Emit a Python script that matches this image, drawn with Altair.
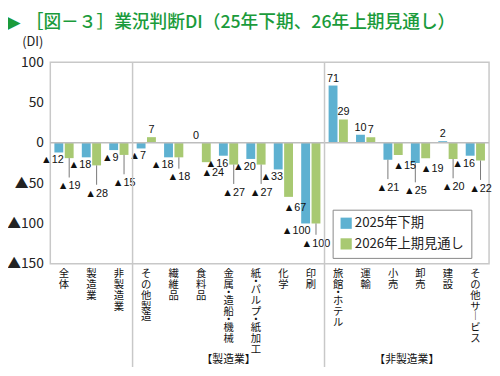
import altair as alt
import pandas as pd

categories = ["全体", "製造業", "非製造業", "その他製造", "繊維品", "食料品",
              "金属・造船・機械", "紙・パルプ・紙加工", "化学", "印刷",
              "旅館・ホテル", "運輸", "小売", "卸売", "建設", "その他サービス"]
v2025 = [-12, -18, -9, -7, -18, 0, -16, -20, -33, -100, 71, 10, -21, -25, 2, -16]
v2026 = [-19, -28, -15, 7, -18, -24, -27, -27, -67, -100, 29, 7, -15, -19, -20, -22]
series_names = ["2025年下期", "2026年上期見通し"]
colors = ["#5eb1d1", "#a8c972"]
group_names = ["【製造業】", "【非製造業】"]
y_ticks = [-150, -100, -50, 0, 50, 100]
title_text = "［図－３］業況判断DI（25年下期、26年上期見通し）"

W, H = 446, 205
JP = "Noto Sans CJK JP"
NUM = "Liberation Sans"


def fmt(v):
    return f"▲{abs(v)}" if v < 0 else str(v)


rows = []
for c, b, g in zip(categories, v2025, v2026):
    for s, v, o in ((series_names[0], b, g), (series_names[1], g, b)):
        kind = "pos" if v >= 0 else ("nb" if s == series_names[0] else "ng")
        ly = v
        if v < 0:
            push = False
            step = 24
            if o < 0 and abs(v - o) < 25:
                if v == o:
                    push = s == series_names[1]
                    step = 14
                else:
                    push = v < o
            elif 0 < o < 5:
                push = True
            if push:
                ly = v - step
                kind = "moved"
        rows.append(dict(cat=c, series=s, value=v, label=fmt(v), label_y=ly, kind=kind))
df = pd.DataFrame(rows)

# vertical (tategaki) category labels: one row per character, middle dots take half a line
char_rows = []
for c in categories:
    off = 0.0
    for ch in c:
        adv = 5.5 if ch == "・" else 11.0
        char_rows.append(dict(cat=c, ch=ch.replace("ー", "︱"), pos=off + adv / 2))
        off += adv
char_df = pd.DataFrame(char_rows)

xscale = alt.Scale(domain=categories, paddingInner=0, paddingOuter=0)
yscale = alt.Scale(domain=[-150, 100], nice=False, zero=False)
xoff = alt.XOffset("series:N", sort=series_names,
                   scale=alt.Scale(domain=series_names, paddingInner=0.143, paddingOuter=0.395))


def X(**kw):
    return alt.X("cat:N", scale=xscale, axis=None, sort=categories, **kw)


base = alt.Chart(df)

bars = base.mark_bar().encode(
    x=X(),
    xOffset=xoff,
    y=alt.Y("value:Q", scale=yscale,
            axis=alt.Axis(values=y_ticks, grid=False, ticks=False, domain=False,
                          labelFont=JP, labelFontSize=14, labelColor="#222",
                          labelPadding=7, title=None,
                          labelExpr="datum.value < 0 ? '▲' + abs(datum.value) : '' + datum.value")),
    y2=alt.datum(0),
    color=alt.Color("series:N", scale=alt.Scale(domain=series_names, range=colors),
                    legend=alt.Legend(title=None, orient="none", legendX=287, legendY=150,
                                      direction="vertical", symbolType="square",
                                      symbolSize=130, symbolStrokeWidth=0,
                                      labelFont=JP, labelFontSize=13.5, labelColor="#222",
                                      strokeColor="#888", padding=7, rowPadding=6,
                                      labelOffset=2, fillColor="white")),
)

zero = alt.Chart(pd.DataFrame({"z": [0]})).mark_rule(color="#bdbdbd", strokeWidth=1.5).encode(
    y=alt.Y("z:Q", scale=yscale))

leaders = base.transform_filter(alt.datum.kind == "moved").mark_rule(
    color="#555", strokeWidth=0.8).encode(
    x=X(), xOffset=xoff,
    y=alt.Y("value:Q", scale=yscale), y2="label_y:Q")

lab_common = dict(font=NUM, fontSize=11, color="#111")

lab_pos = base.transform_filter(alt.datum.kind == "pos").mark_text(
    baseline="bottom", dy=-2, **lab_common).encode(
    x=X(), xOffset=xoff, y=alt.Y("value:Q", scale=yscale), text="label:N")

lab_nb = base.transform_filter(alt.datum.kind == "nb").mark_text(
    baseline="middle", align="right", dx=5, dy=8, **lab_common).encode(
    x=X(), xOffset=xoff, y=alt.Y("label_y:Q", scale=yscale), text="label:N")

lab_ng = base.transform_filter(alt.datum.kind == "ng").mark_text(
    baseline="middle", align="left", dx=-5, dy=11, **lab_common).encode(
    x=X(), xOffset=xoff, y=alt.Y("label_y:Q", scale=yscale), text="label:N")

lab_mv = base.transform_filter(alt.datum.kind == "moved").mark_text(
    baseline="middle", align="center", dy=9, **lab_common).encode(
    x=X(), xOffset=xoff, y=alt.Y("label_y:Q", scale=yscale), text="label:N")

dividers = alt.Chart(pd.DataFrame({"cat": ["その他製造", "旅館・ホテル"]})).mark_rule(
    color="#c8c8c8", strokeWidth=1.5).encode(
    x=X(bandPosition=0), y=alt.value(0), y2=alt.value(H + 105))

g1 = alt.Chart(pd.DataFrame({"cat": ["金属・造船・機械"], "t": [group_names[0]]})).mark_text(
    font=JP, fontSize=11, baseline="middle", color="#111").encode(
    x=X(), y=alt.value(H + 98), text="t:N")
g2 = alt.Chart(pd.DataFrame({"cat": ["卸売"], "t": [group_names[1]]})).mark_text(
    font=JP, fontSize=11, baseline="middle", color="#111").encode(
    x=X(bandPosition=0), y=alt.value(H + 98), text="t:N")

title = alt.Chart(pd.DataFrame({"t": [title_text]})).mark_text(
    font=JP, fontSize=18, fontWeight=500, align="left", baseline="middle",
    color="#1a9b3b").encode(x=alt.value(-25), y=alt.value(-40), text="t:N")
tri = alt.Chart(pd.DataFrame({"t": ["▶"]})).mark_text(
    font="DejaVu Sans", fontSize=18, align="left", baseline="middle",
    color="#1a9b3b").encode(x=alt.value(-44), y=alt.value(-40), text="t:N")
unit = alt.Chart(pd.DataFrame({"t": ["(DI)"]})).mark_text(
    font=JP, fontSize=13, align="right", baseline="middle",
    color="#222").encode(x=alt.value(-7), y=alt.value(-20), text="t:N")

main = alt.layer(
    bars, zero, leaders, lab_pos, lab_nb, lab_ng, lab_mv,
    dividers, g1, g2, title, tri, unit
)

xlabels = alt.Chart(char_df).mark_text(
    font=JP, fontSize=10.5, baseline="middle", align="center", color="#111").encode(
    x=X(),
    y=alt.Y("pos:Q", scale=alt.Scale(domain=[0, 100], range=[H + 5, H + 105]), axis=None),
    text="ch:N")

chart = alt.layer(main, xlabels).resolve_scale(y="independent").properties(
    width=W, height=H,
    autosize=alt.AutoSizeParams(type="none"),
    padding={"left": 43, "top": 52, "right": 3, "bottom": 111},
).configure_view(stroke="#c8c8c8", strokeWidth=1.5)

chart.save("out.html", embed_options={"renderer": "svg", "actions": False})
